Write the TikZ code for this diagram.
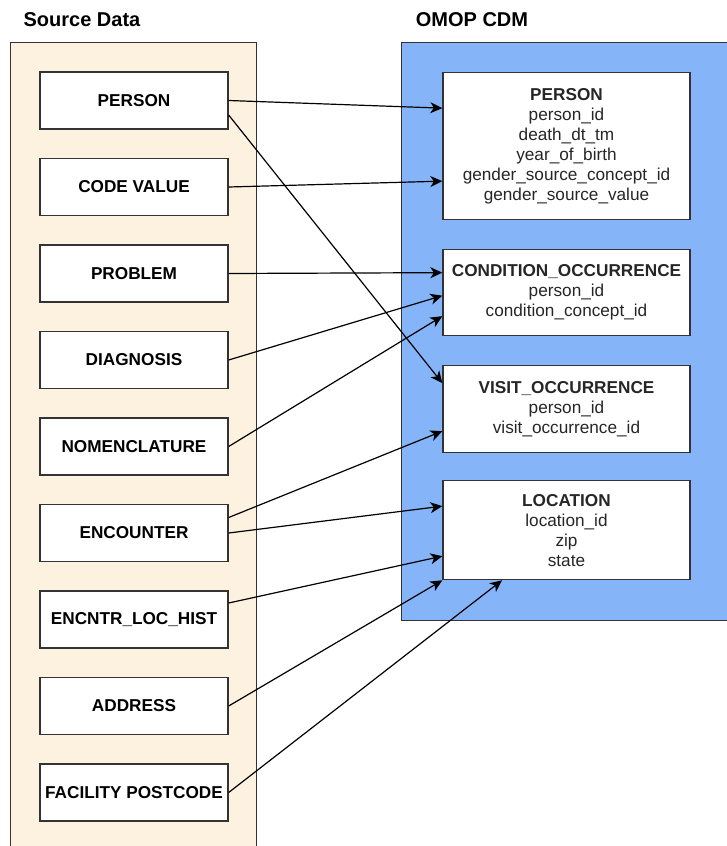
\documentclass[tikz,border=0pt]{standalone}
\usepackage{fontspec}
\setmainfont{Liberation Sans}
\usepackage{tikz}
\usetikzlibrary{arrows.meta, positioning, calc}

\definecolor{srcfill}{HTML}{FDF2DF}
\definecolor{cdmfill}{HTML}{85B4F9}
\definecolor{edgegray}{HTML}{333333}

\tikzset{
  srcbox/.style   = {rectangle, draw=edgegray, line width=1.3pt, fill=white,
                    minimum width=188pt, minimum height=57pt,
                    align=center, font=\fontsize{17.2}{20}\selectfont\bfseries},
  tablebox/.style = {rectangle, draw=edgegray, line width=1.3pt, fill=white,
                    minimum width=247pt, align=center,
                    font=\fontsize{17.2}{20}\selectfont, text=black!85},
  panel/.style    = {draw=edgegray, line width=1.3pt, inner sep=0pt},
  title/.style    = {font=\fontsize{20}{24}\selectfont\bfseries},
  ->/.style       = {line width=1.2pt, -{Stealth[length=12pt,width=11pt,inset=3.5pt]}}
}

\begin{document}
\begin{tikzpicture}[x=1pt, y=-1pt]

\useasboundingbox (0,0) rectangle (727,846);
\clip (0,0) rectangle (727,846);

% Panels
\node[panel, fill=srcfill, anchor=north west, minimum width=246pt, minimum height=830pt
] at (10, 42) (srcpanel) {};
\node[panel, fill=cdmfill, anchor=north west, minimum width=340pt, minimum height=578pt
] at (401, 42) (cdmpanel) {};

\node[title] at (82, 20) (srctitle) {Source Data};
\node[title] at (472, 20) (cdmtitle) {OMOP CDM};

% Source tables
\node[srcbox] at (134, 100.5) (srcperson) {PERSON};

\node[srcbox, anchor=north
] at ($(srcperson.south) + (0, 28.2)$) (srccode) {CODE VALUE};

\node[srcbox, anchor=north
] at ($(srccode.south) + (0, 28.2)$) (srcproblem) {PROBLEM};

\node[srcbox, anchor=north
] at ($(srcproblem.south) + (0, 28.2)$) (srcdiagnosis) {DIAGNOSIS};

\node[srcbox, anchor=north
] at ($(srcdiagnosis.south) + (0, 28.2)$) (srcnomenclature) {NOMENCLATURE};

\node[srcbox, anchor=north
] at ($(srcnomenclature.south) + (0, 28.2)$) (srcencounter) {ENCOUNTER};

\node[srcbox, anchor=north
] at ($(srcencounter.south) + (0, 28.2)$) (srclochist) {ENCNTR\_LOC\_HIST};

\node[srcbox, anchor=north
] at ($(srclochist.south) + (0, 28.2)$) (srcaddress) {ADDRESS};

\node[srcbox, anchor=north
] at ($(srcaddress.south) + (0, 28.2)$) (srcfacility) {FACILITY POSTCODE};

% OMOP tables
\node[tablebox, minimum height=147pt, anchor=north
] at (566.5, 72) (person) {
    \textbf{PERSON}\\person\_id\\death\_dt\_tm\\year\_of\_birth\\
    gender\_source\_concept\_id\\gender\_source\_value
};

\node[tablebox, minimum height=86pt, anchor=north
] at ($(person.south) + (0, 28.7)$) (condition) {
    \textbf{CONDITION\_OCCURRENCE}\\person\_id\\condition\_concept\_id
};

\node[tablebox, minimum height=87pt, anchor=north
] at ($(condition.south) + (0, 28.7)$) (visit) {
    \textbf{VISIT\_OCCURRENCE}\\person\_id\\visit\_occurrence\_id
};

\node[tablebox, minimum height=99pt, anchor=north
] at ($(visit.south) + (0, 26.7)$) (location) {
    \textbf{LOCATION}\\location\_id\\zip\\state
};

% Mappings
\draw[->] (srcperson.east) -- ([yshift=38pt]person.west);
\draw[->] ([yshift=-14.5pt]srcperson.east) -- ([yshift=26pt]visit.west);
\draw[->] (srccode.east) -- ([yshift=-35pt]person.west);
\draw[->] (srcproblem.east) -- ([yshift=20pt]condition.west);
\draw[->] (srcdiagnosis.east) -- ([yshift=-3pt]condition.west);
\draw[->] (srcnomenclature.east) -- ([yshift=-23.5pt]condition.west);
\draw[->] ([yshift=15.5pt]srcencounter.east) -- ([yshift=-22pt]visit.west);
\draw[->] (srcencounter.east) -- ([yshift=24pt]location.west);
\draw[->] ([yshift=16.5pt]srclochist.east) -- ([yshift=-26pt]location.west);
\draw[->] (srcaddress.east) -- (location.south west);
\draw[->] (srcfacility.east) -- ([xshift=-64.5pt]location.south);

\end{tikzpicture}
\end{document}
